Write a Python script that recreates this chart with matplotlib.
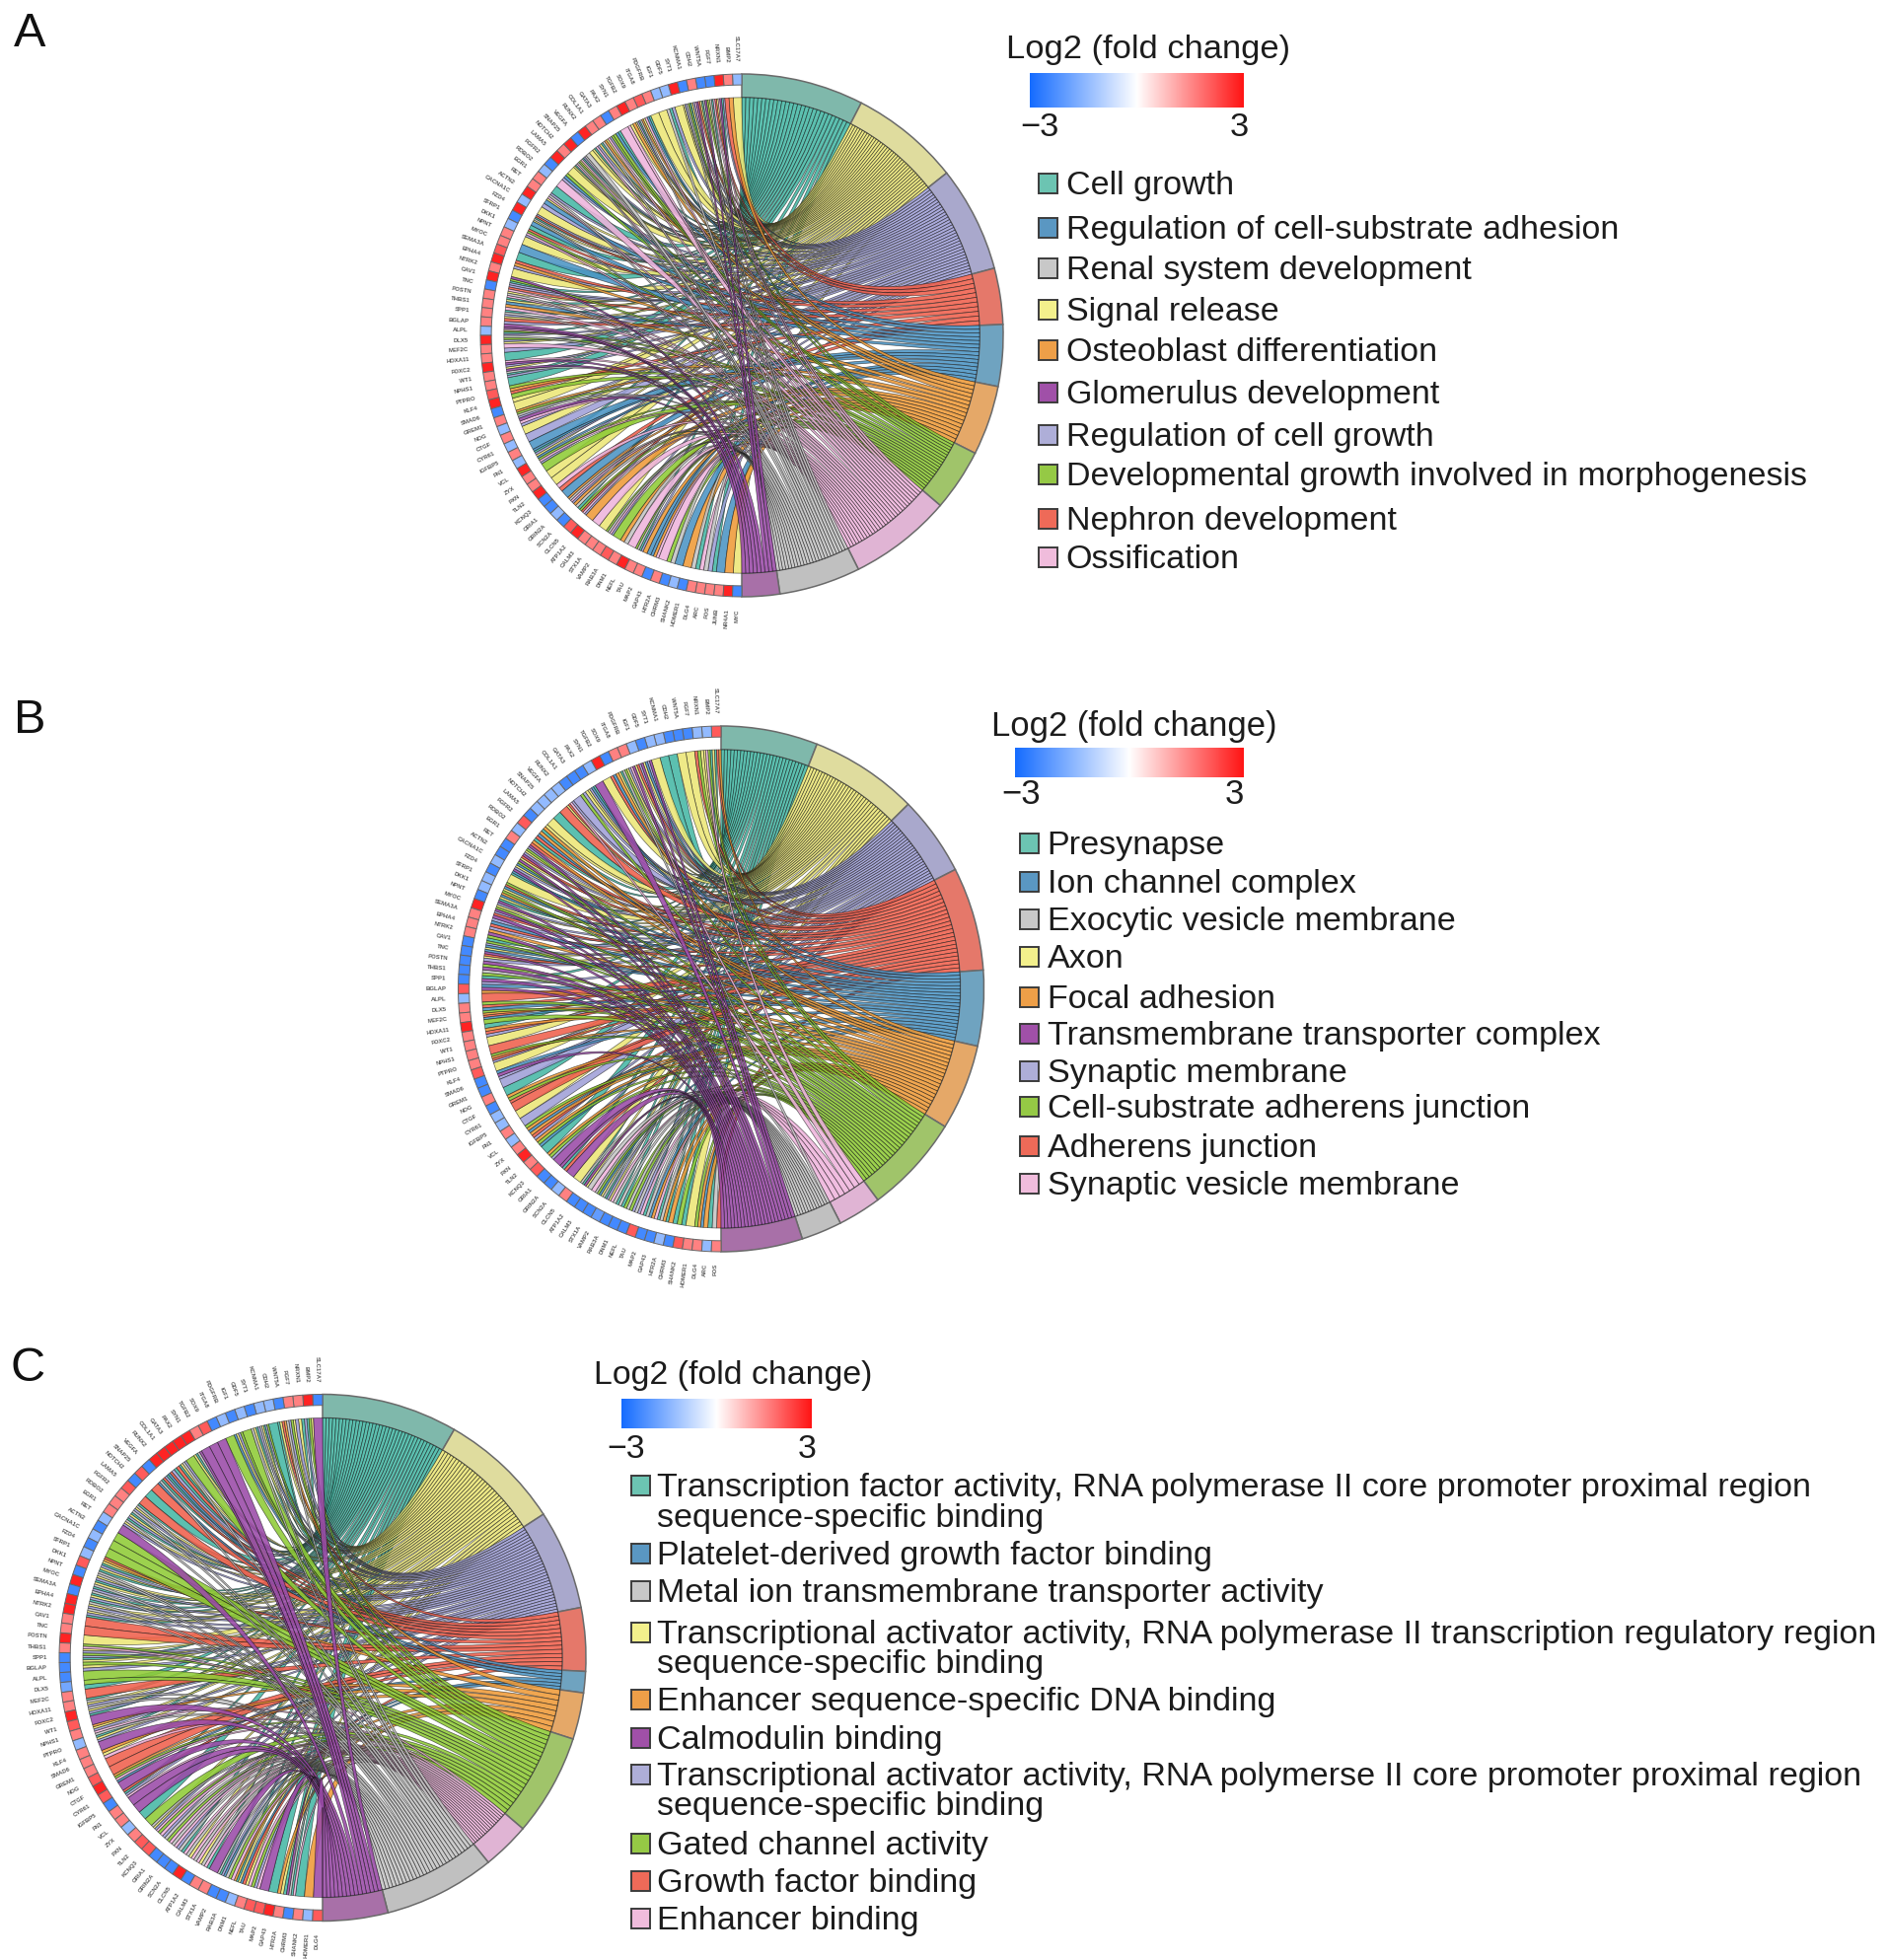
import numpy as np
import matplotlib
matplotlib.use('Agg')
import matplotlib.pyplot as plt
from matplotlib.colors import LinearSegmentedColormap, Normalize, to_rgba
from matplotlib.patches import PathPatch, Rectangle, Wedge
from matplotlib.path import Path

plt.rcParams['font.family'] = ['Liberation Sans', 'DejaVu Sans']

W, H = 1913, 1987
S = 1913 / 1510  # legend layout

# letters: t teal, y yellow, l lavender, r red, b blue, o orange, g green, k pink, a grey, p purple
sector_order = 'tylrbogkap'
legend_order = 'tbayoplgrk'

ribbon_colors = {'t': '#45b8a5', 'y': '#ece776', 'l': '#a0a0d8', 'r': '#f0604c', 'b': '#4b94c4',
                 'o': '#ee9a38', 'g': '#8ecb35', 'k': '#efb4dc', 'a': '#c4c4c4', 'p': '#9a4aa8'}
sector_colors = {'t': '#7fb8ab', 'y': '#dfdc9e', 'l': '#a9a8cc', 'r': '#e5786a', 'b': '#6fa3c0',
                 'o': '#e5a868', 'g': '#a0c46a', 'k': '#e0b4d4', 'a': '#c0c0c0', 'p': '#a870a8'}
legend_colors = {'t': '#6cc4b2', 'y': '#f3f08c', 'l': '#aeaed8', 'r': '#ee6a58', 'b': '#5a97c2',
                 'o': '#ee9f48', 'g': '#95c945', 'k': '#f0bcdc', 'a': '#c8c8c8', 'p': '#a050a8'}

terms_a = ['Cell growth', 'Regulation of cell-substrate adhesion', 'Renal system development',
           'Signal release', 'Osteoblast differentiation', 'Glomerulus development',
           'Regulation of cell growth', 'Developmental growth involved in morphogenesis',
           'Nephron development', 'Ossification']
terms_b = ['Presynapse', 'Ion channel complex', 'Exocytic vesicle membrane', 'Axon', 'Focal adhesion',
           'Transmembrane transporter complex', 'Synaptic membrane', 'Cell-substrate adherens junction',
           'Adherens junction', 'Synaptic vesicle membrane']
terms_c = ['Transcription factor activity, RNA polymerase II core promoter proximal region\nsequence-specific binding',
           'Platelet-derived growth factor binding', 'Metal ion transmembrane transporter activity',
           'Transcriptional activator activity, RNA polymerase II transcription regulatory region\nsequence-specific binding',
           'Enhancer sequence-specific DNA binding', 'Calmodulin binding',
           'Transcriptional activator activity, RNA polymerse II core promoter proximal region\nsequence-specific binding',
           'Gated channel activity', 'Growth factor binding', 'Enhancer binding']

# width of each term's sector, degrees, in sector_order
term_deg_a = [27.2, 24.4, 23.5, 12.5, 13.7, 15.5, 13.8, 22.9, 18.1, 8.4]
term_deg_b = [21.4, 24.0, 17.6, 22.9, 16.7, 19.0, 21.8, 9.6, 9.0, 18.0]
term_deg_c = [30.0, 27.0, 22.0, 14.0, 4.7, 10.3, 22.5, 10.5, 24.6, 14.4]

# fold change per gene, counter-clockwise from the top seam
logfc_a = [-1.4, 1.6, 2.8, -2.4, -2.4, 1.6, -2.4, 2.8, -1.4, -1.4, 1.6, 2.1, 1.6, 2.8, 1.6, -2.4, 1.6, 1.6, 2.8, -2.4, 2.8, 1.6,
           2.8, -2.4, -1.4, 1.6, 1.6, 2.8, -1.4, 2.8, -2.4, -1.4, 1.6, 1.6, 2.1, 2.8, 1.6, 2.8, -2.4, 1.6, 1.6, 1.6, 1.6, -1.4,
           2.8, 1.6, 1.6, 2.8, 1.6, 1.6, 2.1, 2.8, -2.4, 1.6, -1.4, 1.6, -1.4, 1.6, -1.4, 2.8, 1.6, 1.6, 2.8, -2.4, -2.4, -1.4,
           -2.4, 2.1, 2.8, 1.6, 1.6, 1.6, 2.1, 1.6, 2.8, 1.6, 1.6, -2.4, 1.6, -2.4, -1.4, -2.4, 1.6, 1.6, 1.6, 1.6, 2.8, -2.4]
logfc_b = [2.1, -1.4, -1.4, -2.4, -2.4, -2.4, -1.4, -1.4, -2.4, -1.4, 1.6, 1.6, -2.4, 2.8, -1.4, -2.4, -2.4, -2.4, -1.4, -1.4, -1.4, -1.4,
           -2.4, 2.1, -1.4, 1.6, -2.4, -2.4, -1.4, -2.4, -1.4, -1.4, -2.4, 2.8, 1.6, 1.6, 1.6, -2.4, -2.4, -2.4, -2.4, -2.4, 2.1, -1.4, 1.6,
           1.6, 2.8, 1.6, 1.6, 1.6, 1.6, 2.1, -2.4, -2.4, 1.6, -2.4, -1.4, -1.4, 1.6, -1.4, 1.6, 2.8, 1.6, 2.1, -2.4, -2.4, -1.4, 1.6,
           -2.4, -2.4, -2.4, -2.0, -2.4, -2.4, -2.4, 2.1, -2.4, -2.4, -1.4, -2.4, 2.1, 1.6, 1.6, -1.4, 1.6]
logfc_c = [-2.4, 2.8, 1.6, 1.6, -2.4, -1.4, -1.4, -2.4, -1.4, -2.4, -1.4, -2.4, 2.1, 1.6, 2.8, 2.8, 2.8, 2.8, 2.8, -2.4, 2.1,
           -2.4, 2.1, 1.6, 1.6, 1.6, -1.4, -2.4, -1.4, -2.4, -1.4, 2.1, -2.4, 2.8, -2.4, 2.8, 2.8, 1.6, 1.6, 2.8, 1.6, -2.4,
           -2.4, -2.4, -1.8, 1.6, 1.6, 2.8, 2.1, 1.6, -1.4, 1.6, 1.6, 1.6, 2.1, 2.8, 2.1, -2.4, 1.6, 1.6, -1.4, 1.6, 2.1, 2.1,
           -2.4, -2.4, -2.4, 2.8, -2.4, 1.6, 1.6, -2.4, -2.4, -1.4, 1.6, 2.1, 2.1, 2.8, 1.6, -2.4, 1.6, -1.4, 2.1]

# terms each gene belongs to, same gene order
links_a = ['y', 'or', 'ltpky', 'rktay', 'gpaty', 'rpkly', 'tgaly', 'y', 'lta', 'y', 'y', 'tbky', 'oatly', 'oyk', 'k', 'tbg', 'glky', 'oaty',
           'lkty', 'ya', 'altky', 'gakty', 'y', 'gbl', 'k', 't', 'laky', 'bl', 'y', 'lrtay', 'bt', 'rgkl', 'y', 'b', 't', 'rol', 'y', 'pgtl',
           'lrky', 'akty', 'bok', 'taly', 'rlp', 'pkgtl',
           'agly', 'kl', 't', 'kply', 'patl', 't', 'gor', 'gy', 'y', 'ogal', 'pkl', 'y', 'l', 'b', 'btly', 'bgkl', 'g', 'y', 'y', 'kr', 'b',
           'oakl', 'oat', 'grkl', 'o', 'k', 'y', 'gakl', 'g', 'oa', 'k', 'gatl', 'ob', 'bok', 'k', 'ga', 'b', 'o', 'at', 'ka', 'lt', 'b', 'o', 'y']
links_b = ['orty', 'tgky', 'ygr', 'y', 'y', 't', 't', 'y', 'plby', 'plry', 'pkly', 'gaty', 'obr', 'y', 'p', 'tbly', 'ylg', 'l', 'lkry', 'r',
           't', 'y', 'yot', 'obr', 'tor', 'plgy', 'lpry', 'pgby', 'lpbt', 'y', 'grby', 'goby', 'tply', 'gplr', 'plb', 'rlo', 'pgt', 'glby',
           'bpry', 'lpg', 'pag', 'tpl', 'bpo', 'r', 'grb',
           'gorb', 'gt', 'orl', 'y', 'r', 'gorl', 'y', 'bpl', 'l', 't', 'ogr', 'r', 'y', 'l', 'gob', 'orl', 'ogb', 't', 'ogl', 'p',
           'ptr', 'p', 'y', 'atpy', 'ak', 'agby', 'atly', 'kat', 'atg', 'agl', 'alk', 'tab', 'okt', 'aot', 'ot', 'gt', 'y', 'gob', 'ot', 'ar']
links_c = ['p', 'ygtl', 'tyl', 'ygla', 'oryt', 't', 'gltya', 'ltya', 'g', 'glyb', 'g', 'p', 'p', 'p', 'paty', 'g', 'layt', 'rtl', 'rbtl',
           'rtab', 'r', 't', 'r', 'tayl', 'atyl', 'tayl', 'p', 'g', 'g', 'g', 'royt', 'lyta', 'aylt', 'yatl', 'atyl', 'tayl', 'aylt',
           'r', 'r', 'y', 'gkyl', 'glty',
           'gyl', 'g', 'gt', 'r', 'tayl', 'aylt', 'p', 'oylk', 'atyl', 'p', 'oyk', 'r', 'r', 'ogkb', 'p', 'rtlk', 'p', 'p', 't', 'g',
           'aylk', 'gkl', 'agk', 'akl', 'atk', 'ayk', 'aky', 'akt', 'p', 'atlb', 'agk', 'otyb', 'ryk', 'glk', 'p', 't', 'oyt', 'patk',
           't', 'o', 'p']

gene_names = ['SLC17A7', 'BMP2', 'NRXN1', 'FGF7', 'WNT5A', 'CDH2', 'KCNMA1', 'SYT1', 'GDF5', 'IGF1', 'PDGFRB', 'ITGA8', 'SOX9',
              'TGFB2', 'SYN1', 'PAX2', 'GATA3', 'COL1A1', 'RUNX2', 'VEGFA', 'SNAP25', 'NOTCH2', 'LAMA5', 'FGFR2', 'ROBO2',
              'EGR1', 'RET', 'ACTN2', 'CACNA1C', 'FZD4', 'SFRP1', 'DKK1', 'NPNT', 'MYOC', 'SEMA3A', 'EPHA4', 'NTRK2', 'CAV1',
              'TNC', 'POSTN', 'THBS1', 'SPP1', 'BGLAP', 'ALPL', 'DLX5', 'MEF2C', 'HOXA11', 'FOXC2', 'WT1', 'NPHS1', 'PTPRO',
              'KLF4', 'SMAD6', 'GREM1', 'NOG', 'CTGF', 'CYR61', 'IGFBP5', 'FN1', 'VCL', 'ZYX', 'PXN', 'TLN2', 'KCNQ3', 'GRIA1',
              'GRIN2A', 'SCN2A', 'CLCN5', 'ATP1A2', 'CALM3', 'STX1A', 'VAMP2', 'RAB3A', 'DNM1', 'NEFL', 'TAU', 'MAP2', 'GAP43',
              'HTR2A', 'CHRM3', 'SHANK2', 'HOMER1', 'DLG4', 'ARC', 'FOS', 'JUNB', 'NR4A1', 'MYC']

# panel layout in full-size pixels: centre x, centre y, radius
panels = [
    (752, 340, 265, term_deg_a, logfc_a, links_a),
    (731, 1002.5, 266.5, term_deg_b, logfc_b, links_b),
    (327, 1680.5, 267, term_deg_c, logfc_c, links_c),
]

fc_cmap = LinearSegmentedColormap.from_list('fc', ['#156cff', '#ffffff', '#ff1414'])
fc_norm = Normalize(-3, 3)


def pt(angle, r):
    a = np.radians(angle)
    return (r * np.sin(a), r * np.cos(a))


def arc_points(a0, a1, r, n=4):
    return [pt(a, r) for a in np.linspace(a0, a1, n)]


def draw_chord(ax, term_deg, logfc, links):
    n_genes = len(logfc)
    cell = 180.0 / n_genes
    r_in = 0.91

    edges = np.concatenate([[0], np.cumsum(term_deg)])
    strips = {}
    for k, term in enumerate(sector_order):
        ax.add_patch(Wedge((0, 0), 1.0, 90 - edges[k + 1], 90 - edges[k], width=1 - r_in,
                           facecolor=sector_colors[term], edgecolor='#6a6a6a', lw=1.1))
        strips[term] = []

    for i, terms in enumerate(links):
        top = -i * cell
        step = cell / len(terms)
        for j, term in enumerate(terms):
            strips[term].append((top - (j + 1) * step, top - j * step))

    for k, term in enumerate(sector_order):
        gene_side = strips[term]
        if not gene_side:
            continue
        step = term_deg[k] / len(gene_side)
        for s, (g0, g1) in enumerate(gene_side):
            a0 = edges[k] + s * step
            a1 = a0 + step
            verts = arc_points(a0, a1, r_in)
            codes = [Path.MOVETO] + [Path.LINETO] * (len(verts) - 1)
            verts += [(0, 0), pt(g0, r_in)]
            codes += [Path.CURVE3, Path.CURVE3]
            g_arc = arc_points(g0, g1, r_in)[1:]
            verts += g_arc
            codes += [Path.LINETO] * len(g_arc)
            verts += [(0, 0), pt(a0, r_in), pt(a0, r_in)]
            codes += [Path.CURVE3, Path.CURVE3, Path.CLOSEPOLY]
            ax.add_patch(PathPatch(Path(verts, codes), facecolor=to_rgba(ribbon_colors[term], 0.88),
                                   edgecolor=(0.05, 0.05, 0.05, 0.62), lw=0.5))

    for i, v in enumerate(logfc):
        ax.add_patch(Wedge((0, 0), 1.0, 90 + i * cell, 90 + (i + 1) * cell, width=0.042,
                           facecolor=fc_cmap(fc_norm(v)), edgecolor='#666666', lw=0.7))
        phi = (i + 0.5) * cell
        x, y = pt(-phi, 1.046)
        ax.text(x, y, gene_names[i % len(gene_names)], rotation=phi - 90, rotation_mode='anchor',
                ha='right', va='center', fontsize=4.3, color='#5c5c5c', fontweight='bold')


fig = plt.figure(figsize=(W / 100, H / 100), dpi=100, facecolor='white')

for cx, cy, R, term_deg, logfc, links in panels:
    pad = 1.2 * R
    ax = fig.add_axes([(cx - pad) / W, 1 - (cy + pad) / H, 2 * pad / W, 2 * pad / H])
    ax.set_xlim(-1.2, 1.2)
    ax.set_ylim(-1.2, 1.2)
    ax.axis('off')
    draw_chord(ax, term_deg, logfc, links)

over = fig.add_axes([0, 0, 1, 1])
over.patch.set_alpha(0)
over.axis('off')

gradient = np.linspace(-3, 3, 256).reshape(1, -1)

# title x, y, bar x0, x1, y0, y1, -3 x, 3 x, tick y, square x, text x, term labels, first-line y, fontsizes
legends = [
    (805, 40, 824, 995, 58.5, 86, 832, 992, 102, 831, 853, terms_a,
     [147, 182, 215, 248, 280, 314, 348, 380, 415, 446], 24.5, 24.8),
    (793, 581, 812, 995, 599, 622, 817, 988, 636, 816, 838, terms_b,
     [675, 706, 736, 766, 798, 827, 857, 886, 917, 947], 24.6, 24.9),
    (475, 1101, 497, 649, 1120, 1143, 501, 646, 1160, 505, 526, terms_c,
     [1189, 1243, 1273, 1306, 1360, 1391, 1420, 1475, 1505, 1535], 24.6, 24.4),
]

for tx, ty, bx0, bx1, by0, by1, lo_x, hi_x, tick_y, sq_x, text_x, labels, ys, fs, title_fs in legends:
    over.text(tx * S, ty * S, 'Log2 (fold change)', fontsize=title_fs, va='center', ha='left', color='#1c1c1c')
    over.imshow(gradient, cmap=fc_cmap, norm=fc_norm, aspect='auto',
                extent=(bx0 * S, bx1 * S, by1 * S, by0 * S))
    over.text(lo_x * S, tick_y * S, '\u22123', fontsize=title_fs, va='center', ha='center', color='#1c1c1c')
    over.text(hi_x * S, tick_y * S, '3', fontsize=title_fs, va='center', ha='center', color='#1c1c1c')
    for label, y, term in zip(labels, ys, legend_order):
        over.add_patch(Rectangle((sq_x * S, y * S - 10), 19.5, 20, facecolor=legend_colors[term],
                                 edgecolor='#3c3c3c', lw=1.4))
        for n, line in enumerate(label.split('\n')):
            over.text(text_x * S, (y + n * 24 + 2) * S, line, fontsize=fs, va='center', ha='left', color='#1c1c1c')

for letter, x, y in [('A', 24, 27), ('B', 24, 577), ('C', 22, 1095)]:
    over.text(x * S, y * S, letter, fontsize=35, va='center', ha='center', color='#111111')

over.set_xlim(0, W)
over.set_ylim(H, 0)

fig.savefig('out.png', dpi=100)
